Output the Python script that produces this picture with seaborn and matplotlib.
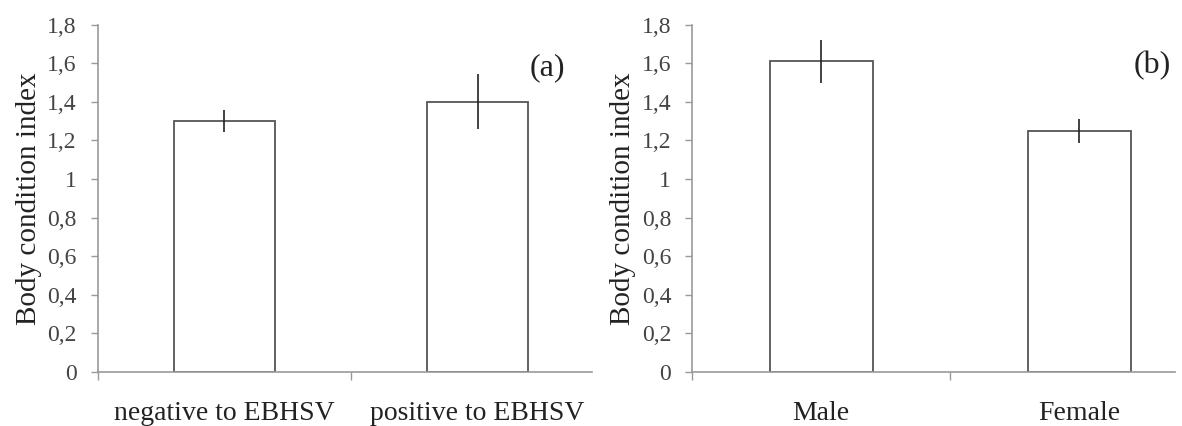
import matplotlib
matplotlib.use("Agg")
import matplotlib.pyplot as plt
import seaborn as sns

# panel (a): EBHSV status
cats_a = ["negative to EBHSV", "positive to EBHSV"]
vals_a = [1.30, 1.40]
errs_a = [0.057, 0.143]

# panel (b): sex
cats_b = ["Male", "Female"]
vals_b = [1.61, 1.25]
errs_b = [0.11, 0.062]

yticks = [0, 0.2, 0.4, 0.6, 0.8, 1.0, 1.2, 1.4, 1.6, 1.8]
ytick_labels = ["0", "0,2", "0,4", "0,6", "0,8", "1", "1,2", "1,4", "1,6", "1,8"]

sns.set_style("white")
plt.rcParams["font.family"] = ["Liberation Serif", "DejaVu Serif"]

fig = plt.figure(figsize=(11.82, 4.26), dpi=100)
ax_a = fig.add_axes([0.0825, 0.127, 0.418, 0.815])
ax_b = fig.add_axes([0.5855, 0.127, 0.4086, 0.815])


def draw_panel(ax, cats, vals, errs, tag, xmax, tag_xy):
    sns.barplot(x=cats, y=vals, ax=ax, color="white", edgecolor="#555555",
                linewidth=1.3, width=0.4, errorbar=None)
    ax.errorbar(x=list(range(len(cats))), y=vals, yerr=errs, fmt="none",
                ecolor="#222222", elinewidth=1.2, capsize=0)
    ax.set_yticks(yticks)
    ax.set_yticklabels(ytick_labels, fontsize=17, color="#444444")
    ax.set_xticks(range(len(cats)))
    ax.set_xticklabels(cats, fontsize=20, color="#222222")
    ax.set_xticks([-0.5, 0.5], minor=True)
    ax.set_xlim(-0.5, xmax)
    ax.set_ylim(0, 1.8)
    ax.tick_params(axis="x", which="major", length=0, pad=21)
    ax.tick_params(axis="x", which="minor", length=6, width=1, color="#999999",
                   direction="out", bottom=True)
    ax.tick_params(axis="y", length=5, width=1, color="#999999",
                   direction="out", left=True, pad=10)
    for side in ["top", "right"]:
        ax.spines[side].set_visible(False)
    for side in ["left", "bottom"]:
        ax.spines[side].set_color("#999999")
        ax.spines[side].set_linewidth(1.2)
    ax.set_ylabel("Body condition index", fontsize=21, color="#222222", labelpad=4)
    ax.set_xlabel("")
    ax.text(tag_xy[0], tag_xy[1], tag, fontsize=23, color="#222222",
            ha="center", va="center")


draw_panel(ax_a, cats_a, vals_a, errs_a, "(a)", 1.45, (1.275, 1.575))
draw_panel(ax_b, cats_b, vals_b, errs_b, "(b)", 1.37, (1.28, 1.59))

fig.savefig("out.png", dpi=100)
